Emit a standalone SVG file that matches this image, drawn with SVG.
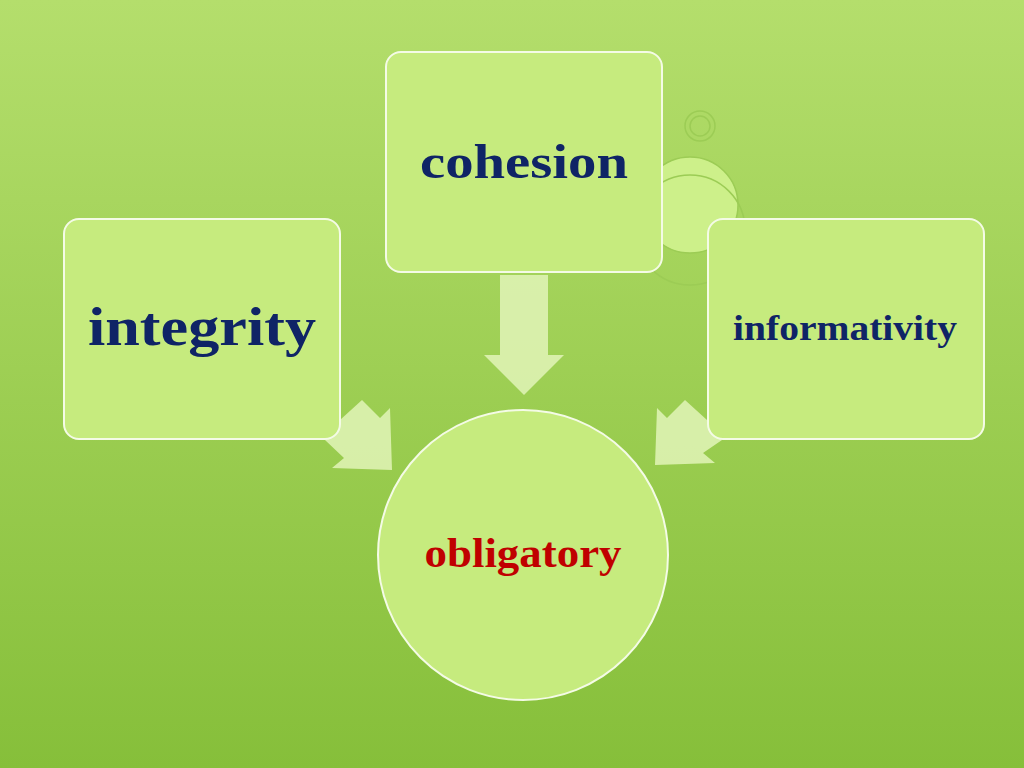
<svg xmlns="http://www.w3.org/2000/svg" width="1024" height="768" viewBox="0 0 1024 768">
<defs>
<linearGradient id="bg" x1="0" y1="0" x2="0" y2="1">
<stop offset="0" stop-color="#b4de6c"/>
<stop offset="1" stop-color="#86bf3a"/>
</linearGradient>
<style>
.box{fill:#c6eb7e;stroke:#f4fbe6;stroke-width:2}
.t{font-family:"Liberation Serif",serif;font-weight:bold;fill:#0f2466;text-anchor:middle}
.arr{fill:#e2f5b8;opacity:0.85}
</style>
</defs>
<rect width="1024" height="768" fill="url(#bg)"/>
<g fill="none" stroke="#9ccc55" stroke-width="1.5">
<circle cx="700" cy="126" r="15"/><circle cx="700" cy="126" r="10"/>
<circle cx="690" cy="205" r="48" fill="#cdf08a"/>
<circle cx="690" cy="230" r="55"/>
</g>
<g id="connectors">
<polygon class="arr" points="500,275 548,275 548,355 564,355 524,395 484,355 500,355"/>
<polygon class="arr" points="340,420 362,400 380,418 390,408 392,470 332,468 344,458 325,440"/>
<polygon class="arr" points="707,420 685,400 667,418 657,408 655,465 715,463 703,453 722,440"/>
</g>
<g id="cohesion"><rect class="box" x="386" y="52" width="276" height="220" rx="15"/>
<text class="t" x="524" y="178" font-size="48" textLength="208" lengthAdjust="spacingAndGlyphs">cohesion</text></g>
<g id="integrity"><rect class="box" x="64" y="219" width="276" height="220" rx="15"/>
<text class="t" x="202" y="345" font-size="54" textLength="228" lengthAdjust="spacingAndGlyphs">integrity</text></g>
<g id="informativity"><rect class="box" x="708" y="219" width="276" height="220" rx="15"/>
<text class="t" x="845" y="340" font-size="35" textLength="224" lengthAdjust="spacingAndGlyphs">informativity</text></g>
<g id="obligatory"><circle cx="523" cy="555" r="145" fill="#c6eb7e" stroke="#f4fbe6" stroke-width="2"/>
<text class="t" x="523" y="567" font-size="42" textLength="197" lengthAdjust="spacingAndGlyphs" style="fill:#c00000">obligatory</text></g>
</svg>
